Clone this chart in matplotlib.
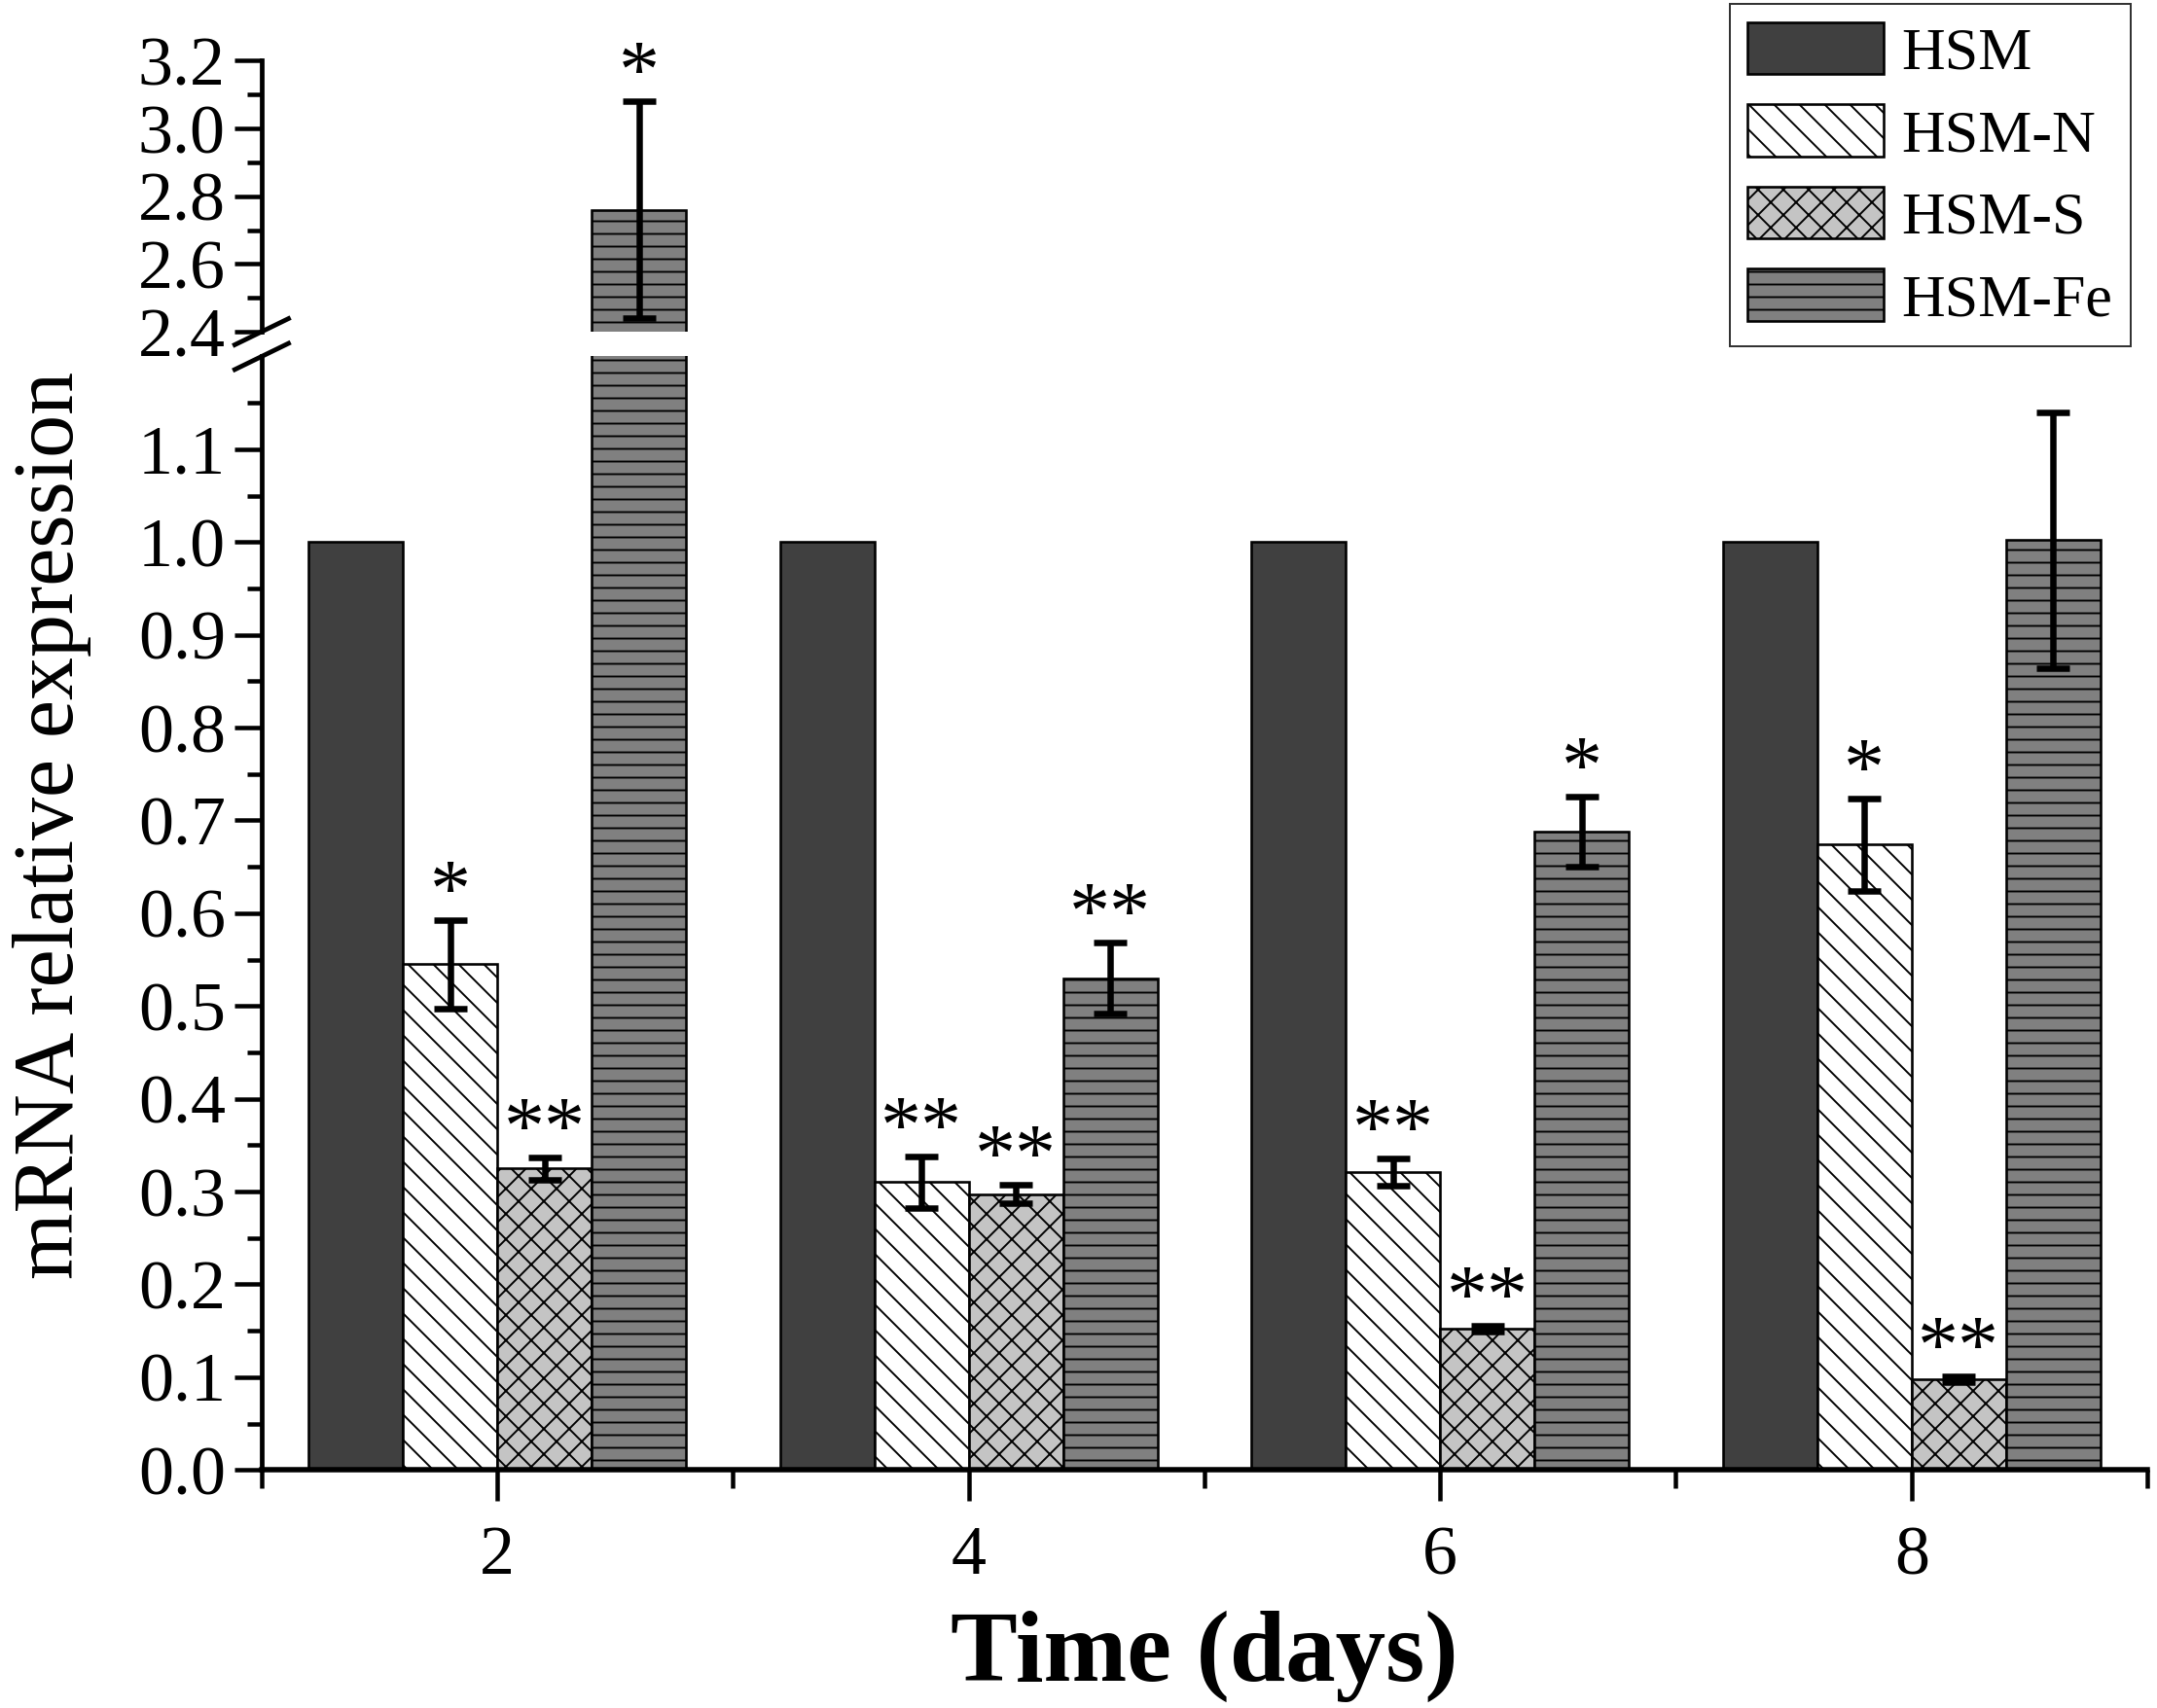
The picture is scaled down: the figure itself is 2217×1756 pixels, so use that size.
import numpy as np
import matplotlib
matplotlib.use('Agg')
import matplotlib.pyplot as plt
from matplotlib.lines import Line2D

# data
days = [2, 4, 6, 8]
groups = ['HSM', 'HSM-N', 'HSM-S', 'HSM-Fe']
hsm = [1.0, 1.0, 1.0, 1.0]
hsm_n = [0.545, 0.310, 0.321, 0.674]
hsm_n_err = [0.048, 0.028, 0.015, 0.050]
hsm_s = [0.325, 0.297, 0.152, 0.098]
hsm_s_err = [0.012, 0.010, 0.003, 0.003]
hsm_fe = [2.76, 0.530, 0.688, 1.002]
hsm_fe_err = [0.32, 0.038, 0.038, 0.138]
sig_n = ['*', '**', '**', '*']
sig_s = ['**', '**', '**', '**']
sig_fe = ['*', '**', '*', '']

DPI = 78
PX = 72 / DPI  # points per pixel

plt.rcParams['font.family'] = ['Liberation Serif', 'DejaVu Serif']
plt.rcParams['hatch.linewidth'] = 1.9 * PX

fig = plt.figure(figsize=(2217 / DPI, 1756 / DPI), dpi=DPI)
left, right = 0.1213, 0.9955
lo_b, lo_t = 0.1394, 0.7913
hi_b, hi_t = 0.8058, 0.9645
ax_lo = fig.add_axes([left, lo_b, right - left, lo_t - lo_b])
ax_hi = fig.add_axes([left, hi_b, right - left, hi_t - hi_b])

series = [
    (hsm, None, None, '', '#404040'),
    (hsm_n, hsm_n_err, sig_n, '\\', 'white'),
    (hsm_s, hsm_s_err, sig_s, 'x', '#c4c4c4'),
    (hsm_fe, hsm_fe_err, sig_fe, '-', '#808080'),
]
offsets = [-0.6, -0.2, 0.2, 0.6]
width = 0.4

handles = []
for ax in (ax_lo, ax_hi):
    for i, (vals, err, sig, hatch, color) in enumerate(series):
        x = np.array(days) + offsets[i]
        b = ax.bar(x, vals, width=width, color=color, edgecolor='black',
                   hatch=hatch, linewidth=2.6 * PX, label=groups[i])
        if ax is ax_lo:
            handles.append(b)
        if err is not None:
            ax.errorbar(x, vals, yerr=err, fmt='none', ecolor='black',
                        elinewidth=6.5 * PX, capsize=17 * PX, capthick=6.5 * PX)

# significance stars
for i, (vals, err, sig, hatch, color) in enumerate(series):
    if sig is None:
        continue
    for j, s in enumerate(sig):
        if not s:
            continue
        top = vals[j] + err[j]
        ax = ax_hi if top > 1.2 else ax_lo
        ax.annotate(s, (days[j] + offsets[i], top), xytext=(0, 4 * PX),
                    textcoords='offset points', ha='center', va='baseline',
                    fontsize=84 * PX, annotation_clip=False)

tick_fs = 72 * PX
for ax in (ax_lo, ax_hi):
    ax.set_xlim(1, 9)
    ax.spines['top'].set_visible(False)
    ax.spines['right'].set_visible(False)
    ax.spines['left'].set_linewidth(4.8 * PX)
    ax.spines['bottom'].set_linewidth(5.5 * PX)
    ax.tick_params(axis='y', which='major', direction='out', length=28 * PX,
                   width=4.5 * PX, labelsize=tick_fs, pad=9 * PX)
    ax.tick_params(axis='y', which='minor', direction='out', length=15 * PX,
                   width=4.5 * PX)

ax_lo.set_ylim(0, 1.2)
ax_lo.set_yticks(np.arange(0, 1.15, 0.1))
ax_lo.set_yticks(np.arange(0.05, 1.2, 0.1), minor=True)
ax_lo.set_yticklabels(['%.1f' % v for v in np.arange(0, 1.15, 0.1)])
ax_lo.set_xticks(days)
ax_lo.set_xticks([1, 3, 5, 7, 9], minor=True)
ax_lo.tick_params(axis='x', which='major', direction='out', length=32 * PX,
                  width=4.5 * PX, labelsize=tick_fs, pad=25 * PX)
ax_lo.tick_params(axis='x', which='minor', direction='out', length=19 * PX,
                  width=4.5 * PX)

ax_hi.set_ylim(2.4, 3.2)
ax_hi.set_yticks(np.arange(2.4, 3.25, 0.2))
ax_hi.set_yticks(np.arange(2.5, 3.2, 0.2), minor=True)
ax_hi.set_yticklabels(['%.1f' % v for v in np.arange(2.4, 3.25, 0.2)])
ax_hi.spines['bottom'].set_visible(False)
ax_hi.tick_params(axis='x', which='both', bottom=False, labelbottom=False)

# break marks on the y axis
dx, dy = 19.5 / 1567, 9.5 / 1241
for yc in (hi_b, lo_t):
    fig.add_artist(Line2D([left - dx, left + dx], [yc - dy, yc + dy],
                          color='black', lw=4.8 * PX,
                          transform=fig.transFigure))

fig.text(0.0243, 0.517, 'mRNA relative expression', rotation=90,
         ha='center', va='center', fontsize=88 * PX)
fig.text(left + (right - left) / 2, 0.016, 'Time (days)', ha='center',
         va='baseline', fontweight='bold', fontsize=103 * PX)

leg = fig.legend(handles, groups, loc='upper right',
                 bbox_to_anchor=(2190 / 2217, 1 - 4 / 1756), borderaxespad=0,
                 fontsize=62 * PX, handlelength=2.25, handleheight=0.95,
                 labelspacing=0.38, handletextpad=0.3, borderpad=0.3,
                 fancybox=False, edgecolor='#333333', framealpha=1)
leg.get_frame().set_linewidth(2 * PX)

fig.savefig('out.png', dpi=DPI)
